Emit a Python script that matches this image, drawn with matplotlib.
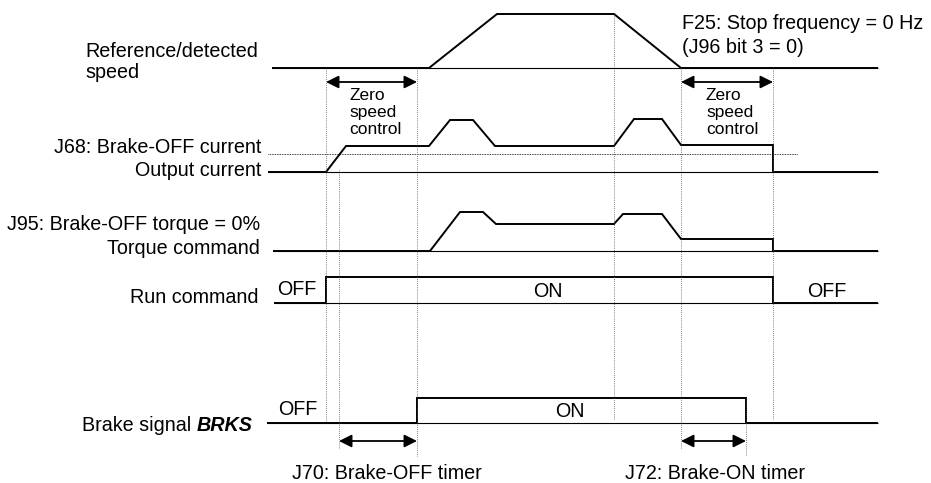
import matplotlib
matplotlib.use("Agg")
import matplotlib.pyplot as plt

plt.rcParams['font.family'] = ['Liberation Sans', 'DejaVu Sans']

#----- TIMING DATA (time on x, level above each row baseline) -------
t_end = 878

speed_t = [272, 429, 497, 614, 681, t_end]
speed_v = [0, 0, 54, 54, 0, 0]

current_t = [268, 326, 346, 429, 450, 473, 495, 614, 634, 662, 681, 773, 773, t_end]
current_v = [0, 0, 26, 26, 52, 52, 26, 26, 53, 53, 27, 27, 0, 0]
brake_off_current = 18

torque_t = [273, 430, 460, 483, 496, 614, 623, 662, 681, 773, 773, t_end]
torque_v = [0, 0, 39, 39, 27, 27, 37, 37, 12, 12, 0, 0]

run_t = [274, 326, 326, 773, 773, t_end]
run_v = [0, 0, 26, 26, 0, 0]

brks_t = [267, 417, 417, 746, 746, t_end]
brks_v = [0, 0, 25, 25, 0, 0]

# event markers: (time, top, bottom)
events = [(326, 68, 421), (339, 170, 448), (417, 68, 456), (614, 14, 420),
          (681, 68, 448), (746, 398, 456), (773, 68, 420)]

#----- ROW LAYOUT ---------------------------------------------------
rows = {"speed": 68, "current": 172, "torque": 251, "run": 303, "brks": 423}

fig = plt.figure(figsize=(9.31, 4.83), dpi=100)
ax = fig.add_axes([0, 0, 1, 1])
ax.set_xlim(0, 931)
ax.set_ylim(483, 0)
ax.axis("off")

thick = 1.4
thin = 0.8

def draw_signal(t, v, base):
    ax.plot([t[0], t_end], [base, base], color="black", lw=thin, solid_capstyle="butt")
    ax.plot(t, [base - lv for lv in v], color="black", lw=thick,
            solid_joinstyle="miter", solid_capstyle="butt")

draw_signal(speed_t, speed_v, rows["speed"])
draw_signal(current_t, current_v, rows["current"])
draw_signal(torque_t, torque_v, rows["torque"])
draw_signal(run_t, run_v, rows["run"])
draw_signal(brks_t, brks_v, rows["brks"])

# brake-OFF current threshold
ax.plot([268, 798], [rows["current"] - brake_off_current] * 2, color="black",
        lw=0.6, ls=(0, (1, 1)))

for x, y0, y1 in events:
    ax.plot([x, x], [y0, y1], color="#555555", lw=0.6, ls=(0, (1, 1.5)))

def dbl_arrow(x0, x1, y):
    ax.annotate("", xy=(x1, y), xytext=(x0, y),
                arrowprops=dict(arrowstyle="<|-|>", color="black", lw=1.3,
                                mutation_scale=19, shrinkA=0, shrinkB=0))

dbl_arrow(326, 417, 82)
dbl_arrow(681, 773, 82)
dbl_arrow(339, 417, 441)
dbl_arrow(681, 746, 441)

#----- TEXT ---------------------------------------------------------
fs = 14.2
ax.text(85, 57, "Reference/detected", fontsize=fs, va="baseline")
ax.text(85, 78, "speed", fontsize=fs, va="baseline")
ax.text(261, 153, "J68: Brake-OFF current", fontsize=fs, va="baseline", ha="right")
ax.text(261, 176, "Output current", fontsize=fs, va="baseline", ha="right")
ax.text(260, 230, "J95: Brake-OFF torque = 0%", fontsize=fs, va="baseline", ha="right")
ax.text(260, 254, "Torque command", fontsize=fs, va="baseline", ha="right")
ax.text(259, 303, "Run command", fontsize=fs, va="baseline", ha="right")
brks = ax.text(253, 431, "BRKS", fontsize=fs, va="baseline", ha="right",
               fontweight="bold", fontstyle="italic")
ax.annotate("Brake signal ", xy=(0, 0), xycoords=brks, fontsize=fs,
            ha="right", va="bottom")

ax.text(682, 29, "F25: Stop frequency = 0 Hz", fontsize=fs, va="baseline")
ax.text(682, 53, "(J96 bit 3 = 0)", fontsize=fs, va="baseline")

fz = 12.5
for x in (349, 706):
    ax.text(x, 100, "Zero", fontsize=fz, va="baseline")
    ax.text(x, 117, "speed", fontsize=fz, va="baseline")
    ax.text(x, 134, "control", fontsize=fz, va="baseline")

ax.text(297, 295, "OFF", fontsize=fs, va="baseline", ha="center")
ax.text(548, 297, "ON", fontsize=fs, va="baseline", ha="center")
ax.text(827, 297, "OFF", fontsize=fs, va="baseline", ha="center")
ax.text(298, 415, "OFF", fontsize=fs, va="baseline", ha="center")
ax.text(570, 417, "ON", fontsize=fs, va="baseline", ha="center")

ax.text(292, 479, "J70: Brake-OFF timer", fontsize=fs, va="baseline")
ax.text(625, 479, "J72: Brake-ON timer", fontsize=fs, va="baseline")

fig.savefig("out.png", dpi=100, facecolor="white")
